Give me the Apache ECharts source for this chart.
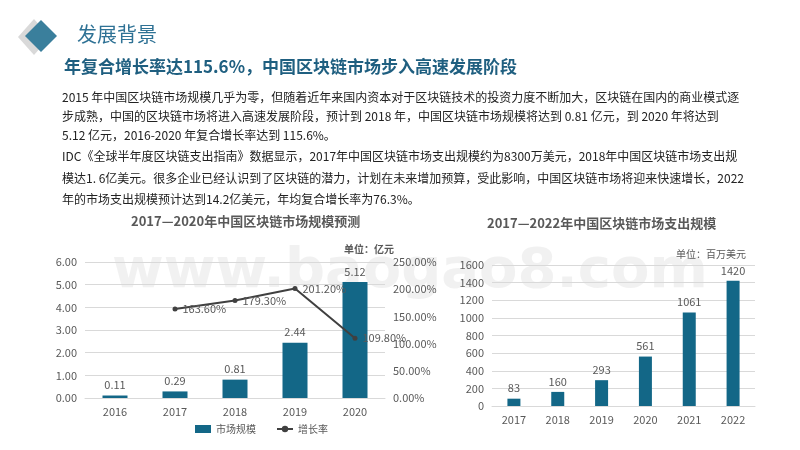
<!DOCTYPE html>
<html><head><meta charset="utf-8">
<script src="https://cdn.jsdelivr.net/npm/echarts@6/dist/echarts.min.js"></script>
<style>html,body{margin:0;padding:0;background:#fff}#c{width:800px;height:450px}</style>
</head><body><div id="c"></div>
<script>
const years1 = ["2016", "2017", "2018", "2019", "2020"];
const marketSize = [0.11, 0.29, 0.81, 2.44, 5.12];
const growthRate = [null, 163.6, 179.3, 201.2, 109.8];
const years2 = ["2017", "2018", "2019", "2020", "2021", "2022"];
const spending = [83, 160, 293, 561, 1061, 1420];
const paragraph = [
  "2015 年中国区块链市场规模几乎为零，但随着近年来国内资本对于区块链技术的投资力度不断加大，区块链在国内的商业模式逐",
  "步成熟，中国的区块链市场将进入高速发展阶段，预计到 2018 年，中国区块链市场规模将达到 0.81 亿元，到 2020 年将达到",
  "5.12 亿元，2016-2020 年复合增长率达到 115.6%。",
  "IDC《全球半年度区块链支出指南》数据显示，2017年中国区块链市场支出规模约为8300万美元，2018年中国区块链市场支出规",
  "模达1. 6亿美元。很多企业已经认识到了区块链的潜力，计划在未来增加预算，受此影响，中国区块链市场将迎来快速增长，2022",
  "年的市场支出规模预计达到14.2亿美元，年均复合增长率为76.3%。"
];
const lineY = [99, 118, 137, 158, 180, 201];

const blue = "#136787";
const gray = "#595959";
const font = "'Noto Sans CJK SC', sans-serif";
const chart = echarts.init(document.getElementById("c"));

const graphics = [
  { type: "polygon", shape: { points: [[18, 37], [34, 19], [50, 37], [34, 55]] }, style: { fill: "#d9d9d9" } },
  { type: "polygon", shape: { points: [[25, 36], [41, 20], [57, 36], [41, 52]] }, style: { fill: "#3a7f9c" } },
  { type: "text", left: 77, top: 24, style: { text: "发展背景", font: "20px " + font, fill: "#2f7295" } },
  { type: "text", left: 64, top: 58, style: { text: "年复合增长率达115.6%，中国区块链市场步入高速发展阶段", font: "bold 17px " + font, fill: "#1f5f80" } },
  { type: "text", left: 131, top: 215, style: { text: "2017—2020年中国区块链市场规模预测", font: "bold 13px " + font, fill: gray } },
  { type: "text", left: 487, top: 217, style: { text: "2017—2022年中国区块链市场支出规模", font: "bold 13px " + font, fill: gray } },
  { type: "text", left: 344, top: 244, style: { text: "单位：亿元", font: "bold 10px " + font, fill: gray } },
  { type: "text", left: 676, top: 249, style: { text: "单位：百万美元", font: "10px " + font, fill: gray } },
  { type: "text", left: 112, top: 244, z: -1, style: { text: "www.baogao8.com", font: "bold 56px 'DejaVu Sans', sans-serif", fill: "rgba(210,210,210,0.3)" } }
];
paragraph.forEach((t, i) => {
  graphics.push({ type: "text", left: 62, top: lineY[i] - 8, style: { text: t, font: "12px " + font, fill: "#222" } });
});

chart.setOption({
  animation: false,
  textStyle: { fontFamily: font },
  graphic: graphics,
  legend: {
    left: 190, top: 419, itemWidth: 16, itemHeight: 8, itemGap: 20,
    textStyle: { fontSize: 10, color: gray },
    data: [{ name: "市场规模", icon: "rect" }, { name: "增长率" }]
  },
  grid: [
    { left: 85, right: 415, top: 262, bottom: 52 },
    { left: 492, right: 45, top: 265, bottom: 44 }
  ],
  xAxis: [
    { type: "category", gridIndex: 0, data: years1, axisTick: { show: false }, axisLine: { lineStyle: { color: "#d9d9d9" } }, axisLabel: { color: gray, fontSize: 11 } },
    { type: "category", gridIndex: 1, data: years2, axisTick: { show: false }, axisLine: { lineStyle: { color: "#d9d9d9" } }, axisLabel: { color: gray, fontSize: 11 } }
  ],
  yAxis: [
    { type: "value", gridIndex: 0, min: 0, max: 6, interval: 1, axisLabel: { color: gray, fontSize: 11, formatter: v => v.toFixed(2) }, splitLine: { lineStyle: { color: "#d9d9d9" } } },
    { type: "value", gridIndex: 0, min: 0, max: 250, interval: 50, position: "right", axisLabel: { color: gray, fontSize: 11, formatter: v => v.toFixed(2) + "%" }, splitLine: { show: false } },
    { type: "value", gridIndex: 1, min: 0, max: 1600, interval: 200, axisLabel: { color: gray, fontSize: 11, formatter: v => String(v) }, splitLine: { lineStyle: { color: "#d9d9d9" } } }
  ],
  series: [
    { name: "市场规模", type: "bar", xAxisIndex: 0, yAxisIndex: 0, data: marketSize, barWidth: 25, itemStyle: { color: blue },
      label: { show: true, position: "top", color: gray, fontSize: 11, formatter: p => p.value.toFixed(2) } },
    { name: "增长率", type: "line", xAxisIndex: 0, yAxisIndex: 1, data: growthRate, symbol: "circle", symbolSize: 5,
      itemStyle: { color: "#404040" }, lineStyle: { color: "#404040", width: 2 },
      label: { show: true, position: "right", color: gray, fontSize: 11, formatter: p => p.value.toFixed(2) + "%" } },
    { name: "支出规模", type: "bar", xAxisIndex: 1, yAxisIndex: 2, data: spending, barWidth: 13, itemStyle: { color: blue },
      label: { show: true, position: "top", color: gray, fontSize: 11 } }
  ]
});
</script></body></html>
